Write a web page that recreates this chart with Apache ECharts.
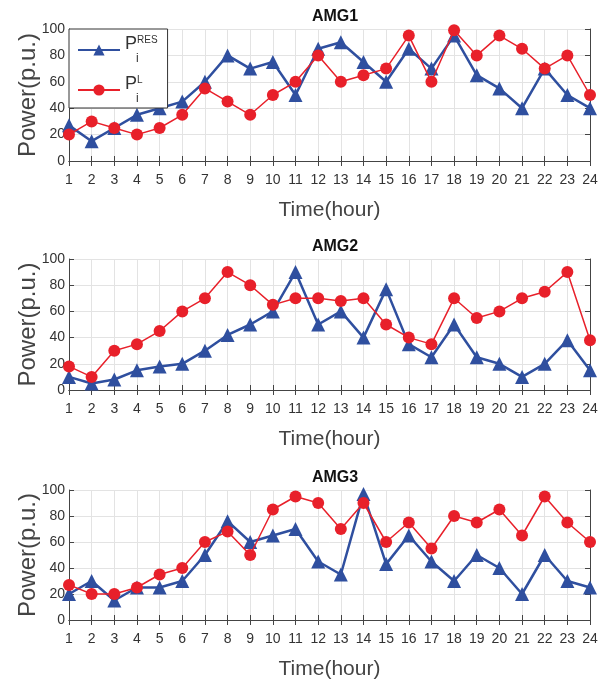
<!DOCTYPE html>
<html>
<head>
<meta charset="utf-8">
<script src="https://cdn.jsdelivr.net/npm/echarts@6/dist/echarts.min.js"></script>
<style>
  html, body { margin: 0; padding: 0; background: #fff; }
  #chart { width: 613px; height: 689px; }
</style>
</head>
<body>
<div id="chart"></div>
<script>
var hours = [1, 2, 3, 4, 5, 6, 7, 8, 9, 10, 11, 12, 13, 14, 15, 16, 17, 18, 19, 20, 21, 22, 23, 24];
var titles = ["AMG1", "AMG2", "AMG3"];

var amg1Res = [27, 15, 25, 35, 40, 45, 60, 80, 70, 75, 50, 85, 90, 75, 60, 85, 70, 95, 65, 55, 40, 70, 50, 40];
var amg1Load = [20, 30, 25, 20, 25, 35, 55, 45, 35, 50, 60, 80, 60, 65, 70, 95, 60, 99, 80, 95, 85, 70, 80, 50];
var amg2Res = [10, 5, 8, 15, 18, 20, 30, 42, 50, 60, 90, 50, 60, 40, 77, 35, 25, 50, 25, 20, 10, 20, 38, 15];
var amg2Load = [18, 10, 30, 35, 45, 60, 70, 90, 80, 65, 70, 70, 68, 70, 50, 40, 35, 70, 55, 60, 70, 75, 90, 38];
var amg3Res = [20, 30, 15, 25, 25, 30, 50, 76, 60, 65, 70, 45, 35, 97, 43, 65, 45, 30, 50, 40, 20, 50, 30, 25];
var amg3Load = [27, 20, 20, 25, 35, 40, 60, 68, 50, 85, 95, 90, 70, 90, 60, 75, 55, 80, 75, 85, 65, 95, 75, 60];

var resData = [amg1Res, amg2Res, amg3Res];
var loadData = [amg1Load, amg2Load, amg3Load];

var blue = "#2f4f9f";
var red = "#e8202a";
var font = "Liberation Sans, Arial, sans-serif";

var grids = [
  { left: 69, right: 23, top: 29, height: 132 },
  { left: 69, right: 23, top: 259, height: 131 },
  { left: 69, right: 23, top: 490, height: 130 }
];

var xAxes = [], yAxes = [], series = [], title = [];

grids.forEach(function (g, i) {
  title.push({
    text: titles[i],
    left: 330, top: g.top - 25, textAlign: "center",
    textStyle: { fontSize: 16, fontWeight: "bold", color: "#111", fontFamily: font }
  });
  // bottom axis
  xAxes.push({
    type: "value", gridIndex: i, min: 1, max: 24, interval: 1,
    name: "Time(hour)", nameLocation: "middle", nameGap: 39, nameMoveOverlap: false,
    nameTextStyle: { fontSize: 21, color: "#444", fontFamily: font },
    axisLine: { lineStyle: { color: "#444", width: 1 } },
    axisTick: { inside: true, length: 5, lineStyle: { color: "#444" } },
    axisLabel: { fontSize: 14, color: "#333", margin: 12, fontFamily: font },
    splitLine: { show: true, lineStyle: { color: "#e3e3e3", width: 1 } }
  });
  // top axis, only for the box and ticks
  xAxes.push({
    type: "value", gridIndex: i, min: 1, max: 24, interval: 1, position: "top",
    axisLine: { lineStyle: { color: "#444", width: 1 } },
    axisTick: { inside: true, length: 5, lineStyle: { color: "#444" } },
    axisLabel: { show: false }, splitLine: { show: false }
  });
  yAxes.push({
    type: "value", gridIndex: i, min: 0, max: 100, interval: 20,
    name: "Power(p.u.)", nameLocation: "middle", nameGap: 29, nameRotate: 90, nameMoveOverlap: false,
    nameTextStyle: { fontSize: 24, color: "#444", fontFamily: font },
    axisLine: { show: true, lineStyle: { color: "#444", width: 1 } },
    axisTick: { show: true, inside: true, length: 5, lineStyle: { color: "#444" } },
    axisLabel: { fontSize: 14, color: "#333", margin: 4, fontFamily: font },
    splitLine: { show: true, lineStyle: { color: "#e3e3e3", width: 1 } }
  });
  yAxes.push({
    type: "value", gridIndex: i, min: 0, max: 100, interval: 20, position: "right",
    axisLine: { show: true, lineStyle: { color: "#444", width: 1 } },
    axisTick: { show: true, inside: true, length: 5, lineStyle: { color: "#444" } },
    axisLabel: { show: false }, splitLine: { show: false }
  });

  series.push({
    name: "RES", type: "line", xAxisIndex: i * 2, yAxisIndex: i * 2,
    data: hours.map(function (h, k) { return [h, resData[i][k]]; }),
    symbol: "triangle", symbolSize: 14,
    lineStyle: { color: blue, width: 2.5 },
    itemStyle: { color: blue },
    z: 2
  });
  series.push({
    name: "L", type: "line", xAxisIndex: i * 2, yAxisIndex: i * 2,
    data: hours.map(function (h, k) { return [h, loadData[i][k]]; }),
    symbol: "circle", symbolSize: 12,
    lineStyle: { color: red, width: 1.5 },
    itemStyle: { color: red },
    z: 3
  });
});

var chart = echarts.init(document.getElementById("chart"));

chart.setOption({
  animation: false,
  backgroundColor: "#fff",
  title: title,
  grid: grids,
  xAxis: xAxes,
  yAxis: yAxes,
  legend: {
    data: ["RES", "L"],
    orient: "vertical",
    left: 69, top: 29,
    padding: [6, 10, 3, 8],
    itemGap: 10,
    itemWidth: 42, itemHeight: 14,
    backgroundColor: "#fff",
    borderColor: "#333", borderWidth: 1,
    formatter: function (name) {
      return "{p|P}{s|" + name + "}\n{i|i}";
    },
    textStyle: {
      color: "#333", fontFamily: font,
      rich: {
        p: { fontSize: 18, lineHeight: 18, fontFamily: font, color: "#333" },
        s: { fontSize: 10, lineHeight: 18, verticalAlign: "top", fontFamily: font, color: "#333" },
        i: { fontSize: 12, lineHeight: 12, padding: [0, 0, 0, 11], fontFamily: font, color: "#333" }
      }
    }
  },
  series: series
});
</script>
</body>
</html>
